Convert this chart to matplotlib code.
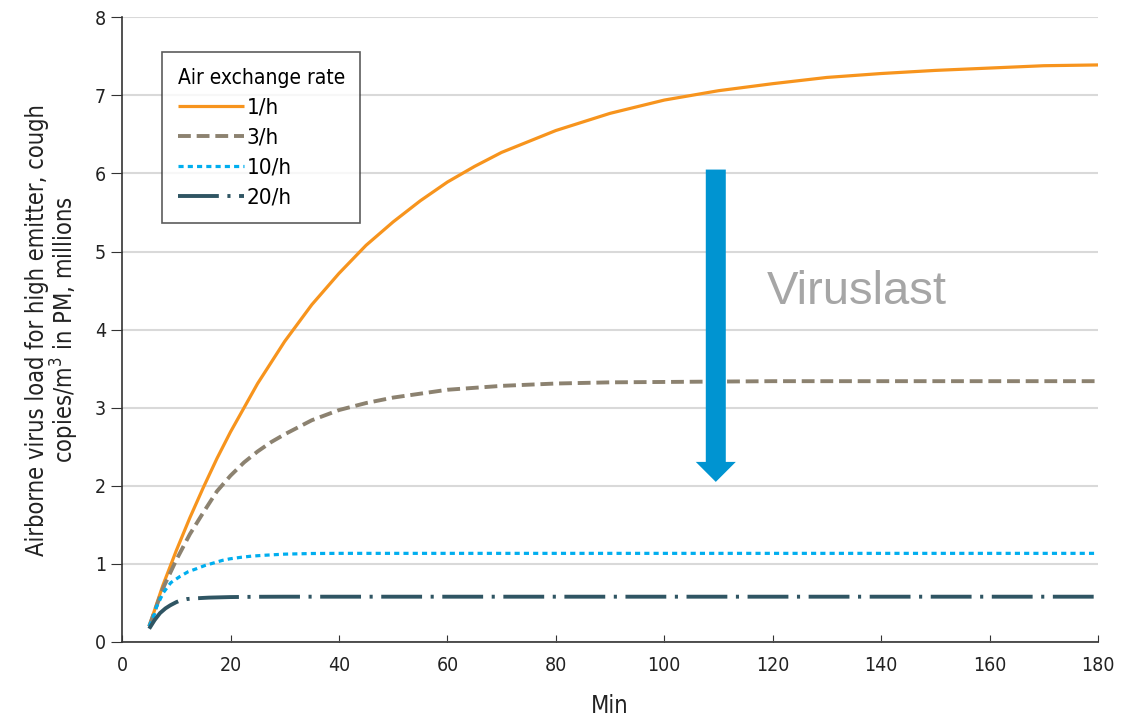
import matplotlib
matplotlib.use("Agg")
import matplotlib.pyplot as plt

# ---- data ----
t_1h = [5, 7.5, 10, 12.5, 15, 17.5, 20, 25, 30, 35, 40, 45, 50, 55, 60, 65, 70, 80, 90, 100, 110, 120, 130, 140, 150, 160, 170, 180]
v_1h = [0.2, 0.72, 1.17, 1.59, 1.98, 2.35, 2.69, 3.31, 3.85, 4.32, 4.72, 5.08, 5.38, 5.65, 5.89, 6.09, 6.27, 6.55, 6.77, 6.94, 7.06, 7.15, 7.23, 7.28, 7.32, 7.35, 7.38, 7.39]

t_3h = [5, 7.5, 10, 12.5, 15, 17.5, 20, 22.5, 25, 27.5, 30, 35, 40, 45, 50, 55, 60, 70, 80, 90, 100, 120, 150, 180]
v_3h = [0.2, 0.68, 1.05, 1.38, 1.66, 1.93, 2.13, 2.3, 2.44, 2.56, 2.66, 2.84, 2.97, 3.06, 3.13, 3.18, 3.23, 3.28, 3.31, 3.325, 3.33, 3.34, 3.34, 3.34]

t_10h = [5, 6, 6.3, 7.6, 9, 10.7, 12.2, 13.8, 15.3, 16.8, 18.5, 19.9, 22, 24, 26.1, 30, 35, 40, 60, 100, 140, 180]
v_10h = [0.2, 0.36, 0.44, 0.63, 0.76, 0.84, 0.9, 0.94, 0.98, 1.01, 1.045, 1.065, 1.085, 1.1, 1.11, 1.125, 1.133, 1.135, 1.135, 1.135, 1.135, 1.135]

t_20h = [5, 6, 7, 8, 8.9, 10, 10.7, 12, 13.8, 16, 19.9, 25, 30, 60, 100, 140, 180]
v_20h = [0.17, 0.28, 0.37, 0.43, 0.47, 0.51, 0.53, 0.55, 0.56, 0.568, 0.575, 0.579, 0.58, 0.58, 0.58, 0.58, 0.58]

labels = ["1/h", "3/h", "10/h", "20/h"]
x_ticks = [0, 20, 40, 60, 80, 100, 120, 140, 160, 180]
y_ticks = [0, 1, 2, 3, 4, 5, 6, 7, 8]

arrow_x = 109.5
arrow_top = 6.05
arrow_bottom = 2.05
annot_text = "Viruslast"
annot_pos = (135.5, 4.48)

# ---- plot ----
plt.rcParams['font.family'] = ['DejaVu Sans']
plt.rcParams['font.stretch'] = 'condensed'
fig = plt.figure(figsize=(11.45, 7.21), dpi=100)
ax = fig.add_axes([0.1066, 0.1096, 0.959 - 0.1066, 0.976 - 0.1096])

ax.set_xlim(0, 180)
ax.set_ylim(0, 8)
ax.set_xticks(x_ticks)
ax.set_yticks(y_ticks)
ax.grid(axis='y', color='#d9d9d9', lw=1.5, zorder=0)
ax.set_axisbelow(True)
for s in ['top', 'right']:
    ax.spines[s].set_visible(False)
for s in ['left', 'bottom']:
    ax.spines[s].set_color('#333333')
    ax.spines[s].set_linewidth(1.2)
ax.tick_params(axis='x', direction='in', length=5, colors='#333333', labelsize=14, pad=10)
ax.tick_params(axis='y', direction='out', length=8, colors='#333333', labelsize=14)
for lab in ax.get_xticklabels() + ax.get_yticklabels():
    lab.set_color('#222222')

ax.plot(t_1h, v_1h, color='#F7941D', lw=2.3, label=labels[0], solid_capstyle='butt', zorder=3)
ax.plot(t_3h, v_3h, color='#8C8270', lw=2.8, dashes=(3.3, 1.5), label=labels[1], zorder=3)
ax.plot(t_10h, v_10h, color='#00AEEF', lw=2.3, dashes=(1.6, 1.3), label=labels[2], zorder=3)
ax.plot(t_20h, v_20h, color='#2F5563', lw=2.8, dashes=(10.5, 2.2, 0.8, 2.2), label=labels[3], zorder=3)

ax.set_xlabel("Min", fontsize=17, color='#222222', labelpad=14)
ax.set_ylabel("Airborne virus load for high emitter, cough\ncopies/m$^3$ in PM, millions",
              fontsize=17, color='#222222', labelpad=10, linespacing=1.0)

leg = ax.legend(title="Air exchange rate", loc='upper left', bbox_to_anchor=(0.041, 0.944),
                fontsize=16, title_fontsize=15, frameon=True, fancybox=False,
                edgecolor='#333333', handlelength=3.0, handletextpad=0.1,
                borderpad=0.7, labelspacing=0.45, borderaxespad=0.0)
leg.get_frame().set_linewidth(1.2)
leg._legend_box.align = "left"

ax.annotate("", xy=(arrow_x, arrow_bottom), xytext=(arrow_x, arrow_top),
            arrowprops=dict(arrowstyle='simple,head_width=2.0,head_length=1.0,tail_width=1.0',
                            color='#0094D1', lw=0, shrinkA=0, shrinkB=0,
                            mutation_scale=14.4), zorder=5)
ax.text(annot_pos[0], annot_pos[1], annot_text, fontsize=34, color='#A6A6A6',
        ha='center', va='center', family=['Liberation Sans', 'DejaVu Sans'], stretch='normal')

fig.savefig("out.png", dpi=100)
